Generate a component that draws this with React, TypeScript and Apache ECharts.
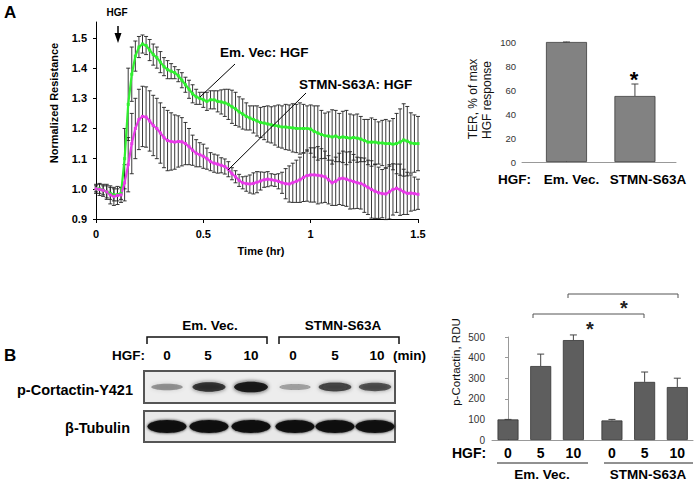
import React, { useEffect, useRef } from 'react';
import * as echarts from 'echarts';

const FONT = '"Liberation Sans", Arial, Helvetica, sans-serif';

// ---------- Panel A: TER time course (one sample per minute) ----------
const sampleMinutes = Array.from({ length: 91 }, (_, i) => i);
const timeHr = sampleMinutes.map((m) => m / 60);

const emVec = [
  1.0, 1.0, 0.995, 0.99, 0.985, 0.98, 0.98, 0.985, 1.1, 1.28,
  1.38, 1.44, 1.47, 1.48, 1.475, 1.46, 1.445, 1.435, 1.42, 1.405,
  1.395, 1.39, 1.385, 1.375, 1.36, 1.345, 1.33, 1.315, 1.305, 1.3,
  1.295, 1.29, 1.295, 1.295, 1.29, 1.288, 1.285, 1.28, 1.272, 1.265,
  1.255, 1.248, 1.24, 1.235, 1.23, 1.225, 1.22, 1.218, 1.215, 1.212,
  1.21, 1.208, 1.205, 1.205, 1.203, 1.202, 1.2, 1.2, 1.2, 1.2,
  1.198, 1.19, 1.185, 1.18, 1.176, 1.175, 1.172, 1.175, 1.17, 1.172,
  1.17, 1.168, 1.17, 1.168, 1.165, 1.16, 1.155, 1.155, 1.155, 1.152,
  1.152, 1.15, 1.15, 1.148, 1.15, 1.155, 1.162, 1.158, 1.152, 1.15,
  1.15,
];
const emVecErr = [
  0.015, 0.015, 0.015, 0.02, 0.02, 0.02, 0.02, 0.02, 0.1, 0.12,
  0.09, 0.05, 0.035, 0.03, 0.03, 0.035, 0.035, 0.035, 0.035, 0.03,
  0.03, 0.025, 0.02, 0.02, 0.025, 0.025, 0.03, 0.03, 0.025, 0.02,
  0.025, 0.03, 0.03, 0.03, 0.035, 0.04, 0.045, 0.05, 0.055, 0.055,
  0.05, 0.05, 0.045, 0.04, 0.045, 0.05, 0.05, 0.055, 0.06, 0.06,
  0.065, 0.07, 0.07, 0.075, 0.075, 0.08, 0.08, 0.085, 0.08, 0.075,
  0.08, 0.085, 0.09, 0.08, 0.075, 0.08, 0.09, 0.085, 0.08, 0.085,
  0.09, 0.08, 0.075, 0.08, 0.075, 0.07, 0.075, 0.08, 0.075, 0.07,
  0.075, 0.08, 0.075, 0.085, 0.1, 0.11, 0.12, 0.115, 0.1, 0.095,
  0.09,
];
const stmn = [
  1.0, 0.998, 0.995, 0.99, 0.98, 0.975, 0.978, 0.98, 1.02, 1.08,
  1.15, 1.2, 1.23, 1.24, 1.238, 1.225, 1.21, 1.2, 1.185, 1.17,
  1.16, 1.157, 1.155, 1.157, 1.156, 1.15, 1.14, 1.128, 1.118, 1.113,
  1.108, 1.1, 1.09, 1.085, 1.082, 1.078, 1.074, 1.065, 1.05, 1.04,
  1.028, 1.02, 1.017, 1.016, 1.018, 1.022, 1.026, 1.03, 1.032, 1.03,
  1.028, 1.025, 1.02, 1.017, 1.016, 1.02, 1.025, 1.03, 1.038, 1.044,
  1.046, 1.046, 1.045, 1.043, 1.04, 1.03, 1.02, 1.025, 1.033, 1.035,
  1.032, 1.028, 1.024, 1.02, 1.018, 1.012, 1.005, 0.998, 0.992, 0.987,
  0.984, 0.983, 0.99, 0.998, 1.002, 0.997, 0.99, 0.985, 0.986, 0.984,
  0.982,
];
const stmnErr = [
  0.01, 0.02, 0.02, 0.025, 0.03, 0.03, 0.03, 0.025, 0.06, 0.09,
  0.1, 0.1, 0.1, 0.1, 0.1, 0.1, 0.1, 0.1, 0.1, 0.1,
  0.1, 0.095, 0.09, 0.085, 0.08, 0.07, 0.06, 0.05, 0.045, 0.04,
  0.04, 0.035, 0.03, 0.03, 0.03, 0.025, 0.025, 0.025, 0.02, 0.02,
  0.02, 0.02, 0.025, 0.03, 0.035, 0.035, 0.03, 0.025, 0.025, 0.02,
  0.02, 0.025, 0.035, 0.05, 0.06, 0.065, 0.07, 0.075, 0.08, 0.085,
  0.09, 0.09, 0.095, 0.09, 0.085, 0.08, 0.075, 0.08, 0.085, 0.09,
  0.09, 0.095, 0.09, 0.085, 0.085, 0.09, 0.09, 0.095, 0.09, 0.085,
  0.08, 0.085, 0.09, 0.085, 0.08, 0.085, 0.075, 0.07, 0.06, 0.055,
  0.05,
];
const lineNames = ['Em. Vec: HGF', 'STMN-S63A: HGF'];

// ---------- Panel A inset: TER % of max ----------
const terCats = ['Em. Vec.', 'STMN-S63A'];
const terVals = [100, 55];
const terErr = [0, 10];
const terSlots = [0, 1];

// ---------- Panel B: blot ----------
const blotGroups = ['Em. Vec.', 'STMN-S63A'];
const blotLanes = ['0', '5', '10', '0', '5', '10'];
const pCortBand = [0.38, 0.78, 0.95, 0.32, 0.68, 0.62];
const tubBand = [0.95, 0.95, 0.95, 0.95, 0.95, 0.93];

// ---------- Panel B quantification ----------
const rduTimes = ['0', '5', '10', '0', '5', '10'];
const rduVals = [100, 359, 485, 95, 282, 257];
const rduErr = [0, 58, 25, 5, 48, 43];
const rduSlots = [0, 1, 2, 3.18, 4.18, 5.18];

function errorBarSeries(
  xs: number[], vals: number[], errs: number[], xAxisIndex: number, yAxisIndex: number,
  capHalf: number, color: string, width: number, upOnly: boolean, z: number
) {
  return {
    type: 'custom',
    xAxisIndex,
    yAxisIndex,
    z,
    encode: { x: 0, y: [1, 2] },
    data: vals.map((v, i) => [xs[i], upOnly ? v : v - errs[i], v + errs[i]]),
    renderItem: (params: any, api: any) => {
      const x = api.value(0);
      const lo = api.coord([x, api.value(1)]);
      const hi = api.coord([x, api.value(2)]);
      const st = { stroke: color, lineWidth: width };
      const children: any[] = [
        { type: 'line', shape: { x1: lo[0], y1: lo[1], x2: hi[0], y2: hi[1] }, style: st },
        { type: 'line', shape: { x1: hi[0] - capHalf, y1: hi[1], x2: hi[0] + capHalf, y2: hi[1] }, style: st },
      ];
      if (!upOnly) {
        children.push({ type: 'line', shape: { x1: lo[0] - capHalf, y1: lo[1], x2: lo[0] + capHalf, y2: lo[1] }, style: st });
      }
      return { type: 'group', children };
    },
  };
}

function txt(text: string, x: number, y: number, size: number, bold: boolean, align = 'left', rot = 0, color = '#000') {
  return {
    type: 'text',
    x,
    y,
    rotation: rot,
    z: 10,
    style: {
      text,
      fontFamily: FONT,
      fontSize: size,
      fontWeight: bold ? 'bold' : 'normal',
      fill: color,
      align,
      verticalAlign: 'middle',
    },
  };
}

function ln(x1: number, y1: number, x2: number, y2: number, color = '#000', w = 1) {
  return { type: 'line', z: 10, shape: { x1, y1, x2, y2 }, style: { stroke: color, lineWidth: w } };
}

function poly(points: number[][], color = '#000', w = 1) {
  return { type: 'polyline', z: 10, shape: { points }, style: { stroke: color, lineWidth: w, fill: 'none' } };
}

export default function App() {
  const ref = useRef<HTMLDivElement>(null);

  useEffect(() => {
    if (!ref.current) return;
    const chart = echarts.init(ref.current, undefined, { renderer: 'svg' });

    const laneX = [167, 209, 251, 295, 335, 375];
    const graphic: any[] = [];
    // Panel letters
    graphic.push(txt('A', 4, 12, 17, true));
    graphic.push(txt('B', 4, 355, 17, true));
    // HGF arrow
    graphic.push(txt('HGF', 117, 12, 10, true, 'center'));
    graphic.push(ln(118, 26, 118, 36, '#000', 1.5));
    graphic.push({ type: 'polygon', z: 10, shape: { points: [[114.5, 33], [121.5, 33], [118, 43]] }, style: { fill: '#000' } });
    // Line labels + leaders
    graphic.push(txt(lineNames[0], 220, 52, 13.5, true));
    graphic.push(ln(235, 64, 200, 97));
    graphic.push(txt(lineNames[1], 299, 84, 13.5, true));
    graphic.push(ln(306, 93, 228, 170));
    graphic.push(txt('Normalized Resistance', 54, 103, 11, true, 'center', Math.PI / 2));
    graphic.push(txt('Time (hr)', 261, 251, 11, true, 'center'));
    // Inset labels
    graphic.push(txt('TER, % of max', 473, 99, 12, false, 'center', Math.PI / 2, '#111'));
    graphic.push(txt('HGF response', 487, 100, 12, false, 'center', Math.PI / 2, '#111'));
    graphic.push(txt('HGF:', 498, 179, 13.5, true));
    graphic.push(txt(terCats[0], 571.5, 179, 13.5, true, 'center'));
    graphic.push(txt(terCats[1], 648, 179, 13.5, true, 'center'));
    graphic.push(txt('*', 634, 79, 22, true, 'center'));

    // Blot header
    graphic.push(txt(blotGroups[0], 210, 325, 13.5, true, 'center'));
    graphic.push(txt(blotGroups[1], 343, 325, 13.5, true, 'center'));
    graphic.push(poly([[147, 344], [147, 337], [267, 337], [267, 344]], '#111', 1.5));
    graphic.push(poly([[279, 344], [279, 337], [399, 337], [399, 344]], '#111', 1.5));
    graphic.push(txt('HGF:', 112, 355, 13.5, true));
    blotLanes.forEach((l, i) => graphic.push(txt(l, [167, 208, 251, 293, 335, 377][i], 355, 13.5, true, 'center')));
    graphic.push(txt('(min)', 393, 355, 13.5, true));
    graphic.push(txt('p-Cortactin-Y421', 133, 390, 14.5, true, 'right'));
    graphic.push(txt('β-Tubulin', 130, 428, 14.5, true, 'right'));
    // Blot boxes
    graphic.push({ type: 'rect', z: 5, shape: { x: 144, y: 371, width: 251, height: 32 }, style: { fill: '#ededed', stroke: '#555', lineWidth: 2 } });
    graphic.push({ type: 'rect', z: 5, shape: { x: 144, y: 411, width: 251, height: 31 }, style: { fill: '#e8e8e8', stroke: '#555', lineWidth: 2 } });
    pCortBand.forEach((a, i) => {
      const c = `rgba(20,20,20,${a})`;
      graphic.push({ type: 'ellipse', z: 6, shape: { cx: laneX[i], cy: 387, rx: 15 + 2 * a, ry: 2 + 3.5 * a }, style: { fill: c, shadowBlur: 4, shadowColor: c } });
    });
    tubBand.forEach((a, i) => {
      const c = `rgba(10,10,10,${a})`;
      graphic.push({ type: 'ellipse', z: 6, shape: { cx: laneX[i], cy: 426.5, rx: 19.5, ry: 6.5 }, style: { fill: c, shadowBlur: 3, shadowColor: c } });
    });

    // Quantification labels
    graphic.push(txt('p-Cortactin, RDU', 456, 362, 11.5, false, 'center', Math.PI / 2, '#111'));
    graphic.push(txt('HGF:', 452, 453, 14, true));
    graphic.push(ln(497, 463, 588, 463, '#222', 1));
    graphic.push(ln(604, 463, 693, 463, '#222', 1));
    graphic.push(txt(blotGroups[0], 542, 474, 13.5, true, 'center'));
    graphic.push(txt(blotGroups[1], 648, 474, 13.5, true, 'center'));
    graphic.push(poly([[568, 298], [568, 294], [678, 294], [678, 298]], '#555', 1));
    graphic.push(txt('*', 624, 308, 20, true, 'center', 0, '#222'));
    graphic.push(poly([[533, 318], [533, 314], [644, 314], [644, 318]], '#555', 1));
    graphic.push(txt('*', 590, 329, 20, true, 'center', 0, '#222'));

    const boldAxisLabel = { fontFamily: FONT, fontWeight: 'bold', fontSize: 11, color: '#000' };

    chart.setOption({
      animation: false,
      textStyle: { fontFamily: FONT },
      grid: [
        { left: 96, top: 22, width: 322, height: 197 },
        { left: 522, top: 42, width: 154, height: 120 },
        { left: 492, top: 337, width: 201, height: 103 },
      ],
      xAxis: [
        {
          gridIndex: 0, type: 'value', min: 0, max: 1.5, interval: 0.5,
          axisLine: { lineStyle: { color: '#000', width: 1 } },
          axisTick: { show: true, length: 4, lineStyle: { color: '#000' } },
          axisLabel: { ...boldAxisLabel, margin: 9, formatter: (v: number) => String(v) },
          splitLine: { show: false },
        },
        {
          gridIndex: 1, type: 'value', min: -0.65, max: 1.6,
          axisLine: { lineStyle: { color: '#999', width: 1 } },
          axisTick: { show: false },
          axisLabel: { show: false },
          splitLine: { show: false },
        },
        {
          gridIndex: 2, type: 'value', min: -0.49, max: 5.66,
          axisLine: { lineStyle: { color: '#999', width: 1 } },
          axisTick: { show: false },
          axisLabel: {
            fontFamily: FONT, fontWeight: 'bold', fontSize: 14, color: '#000', margin: 6,
            customValues: rduSlots,
            formatter: (v: number) => {
              const i = rduSlots.findIndex((s) => Math.abs(s - v) < 1e-6);
              return i >= 0 ? rduTimes[i] : '';
            },
          },
          splitLine: { show: false },
        },
      ],
      yAxis: [
        {
          gridIndex: 0, type: 'value', min: 0.9, max: 1.553, interval: 0.1,
          axisLine: { show: true, lineStyle: { color: '#000', width: 1 } },
          axisTick: { show: true, length: 3, lineStyle: { color: '#000' } },
          axisLabel: { ...boldAxisLabel, margin: 9, showMaxLabel: false, formatter: (v: number) => v.toFixed(1) },
          splitLine: { show: false },
        },
        {
          gridIndex: 1, type: 'value', min: 0, max: 100, interval: 20,
          axisLine: { show: true, lineStyle: { color: '#999', width: 1 } },
          axisTick: { show: true, length: 3, lineStyle: { color: '#999' } },
          axisLabel: { fontFamily: FONT, fontSize: 9.5, color: '#333', margin: 6 },
          splitLine: { show: false },
        },
        {
          gridIndex: 2, type: 'value', min: 0, max: 500, interval: 100,
          axisLine: { show: true, lineStyle: { color: '#999', width: 1 } },
          axisTick: { show: true, length: 3, lineStyle: { color: '#999' } },
          axisLabel: { fontFamily: FONT, fontSize: 10, color: '#333', margin: 7 },
          splitLine: { show: false },
        },
      ],
      series: [
        errorBarSeries(timeHr, emVec, emVecErr, 0, 0, 2, '#222', 0.9, false, 2),
        errorBarSeries(timeHr, stmn, stmnErr, 0, 0, 2, '#222', 0.9, false, 2),
        {
          type: 'line', name: lineNames[0], xAxisIndex: 0, yAxisIndex: 0, z: 4,
          data: emVec.map((v, i) => [timeHr[i], v]),
          symbol: 'rect', symbolSize: 3, showSymbol: true,
          lineStyle: { color: '#30f030', width: 2.2 },
          itemStyle: { color: '#30f030' },
        },
        {
          type: 'line', name: lineNames[1], xAxisIndex: 0, yAxisIndex: 0, z: 4,
          data: stmn.map((v, i) => [timeHr[i], v]),
          symbol: 'rect', symbolSize: 3, showSymbol: true,
          lineStyle: { color: '#e83ae8', width: 2.2 },
          itemStyle: { color: '#e83ae8' },
        },
        {
          type: 'bar', xAxisIndex: 1, yAxisIndex: 1, barWidth: 41, z: 2,
          data: terVals.map((v, i) => [terSlots[i], v]),
          itemStyle: { color: '#828282', borderColor: '#3a3a3a', borderWidth: 0.8 },
        },
        errorBarSeries(terSlots, terVals, terErr, 1, 1, 3.5, '#444', 1, true, 3),
        {
          type: 'bar', xAxisIndex: 2, yAxisIndex: 2, barWidth: 21, z: 2,
          data: rduVals.map((v, i) => [rduSlots[i], v]),
          itemStyle: { color: '#5e5e5e', borderColor: '#333', borderWidth: 0.8 },
        },
        errorBarSeries(rduSlots, rduVals, rduErr, 2, 2, 3.5, '#444', 1, true, 3),
      ],
      graphic,
    });

    return () => chart.dispose();
  }, []);

  return <div ref={ref} style={{ position: 'fixed', left: 0, top: 0, width: 697, height: 482, background: '#fff' }} />;
}
